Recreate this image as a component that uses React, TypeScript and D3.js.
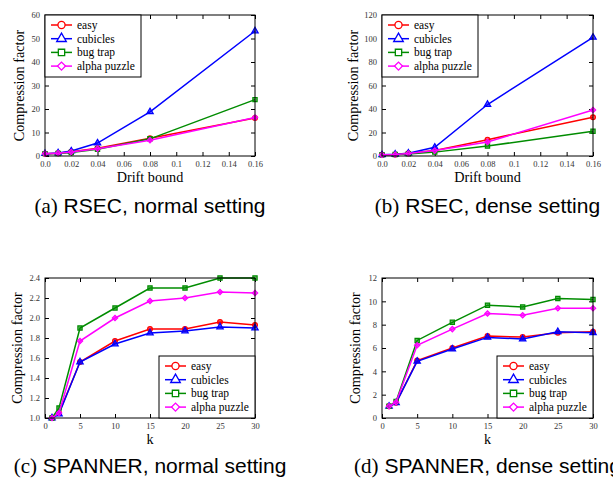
import * as d3 from "d3";
import { useEffect, useRef } from "react";

// series names + styles
const seriesNames = ["easy", "cubicles", "bug trap", "alpha puzzle"];
const seriesColors = ["#ff0000", "#0000ff", "#008c00", "#ff00ff"];
const seriesShapes = ["circle", "triangle", "square", "diamond"];

// RSEC: drift bound on x
const driftX = [0, 0.01, 0.02, 0.04, 0.08, 0.16];
const driftTicks = [0, 0.02, 0.04, 0.06, 0.08, 0.1, 0.12, 0.14, 0.16];
const driftTickLabels = ["0.0", "0.02", "0.04", "0.06", "0.08", "0.1", "0.12", "0.14", "0.16"];

const rsecNormal = [
  [1, 1.2, 1.8, 3.3, 7.6, 16.2],
  [1, 1.3, 2.1, 5.5, 18.8, 53.2],
  [1, 1.1, 1.5, 2.9, 7.3, 24],
  [1, 1.2, 1.7, 3.1, 6.7, 16.4],
];
const rsecDense = [
  [1, 1.3, 2.3, 4.6, 13.9, 33],
  [1, 1.5, 2.4, 7.4, 43.8, 101],
  [1, 1.2, 1.8, 3.3, 8.5, 21],
  [1, 1.3, 2.2, 4.6, 11.9, 39.2],
];

// SPANNER: k on x
const kX = [1, 2, 5, 10, 15, 20, 25, 30];
const kTicks = [0, 5, 10, 15, 20, 25, 30];

const spannerNormal = [
  [1.0, 1.05, 1.56, 1.77, 1.89, 1.89, 1.96, 1.93],
  [1.0, 1.04, 1.56, 1.74, 1.85, 1.87, 1.91, 1.9],
  [1.0, 1.1, 1.9, 2.1, 2.3, 2.3, 2.4, 2.4],
  [1.0, 1.05, 1.77, 2.0, 2.17, 2.2, 2.26, 2.25],
];
const spannerDense = [
  [1, 1.3, 4.92, 6.0, 7.02, 6.94, 7.31, 7.39],
  [1, 1.3, 4.86, 5.91, 6.91, 6.77, 7.39, 7.31],
  [1, 1.42, 6.65, 8.2, 9.67, 9.52, 10.24, 10.15],
  [1, 1.35, 6.23, 7.62, 8.96, 8.81, 9.41, 9.41],
];

const SERIF = "'Liberation Serif', 'DejaVu Serif', serif";
const SANS = "'Liberation Sans', Arial, sans-serif";

function symbolFor(shape, size) {
  var type = d3.symbolCircle;
  if (shape === "triangle") type = d3.symbolTriangle;
  if (shape === "square" || shape === "diamond") type = d3.symbolSquare;
  return d3.symbol().type(type).size(shape === "diamond" ? size * 0.8 : size)();
}

function Panel({ id, left, top, width, height, xs, series, xDomain, xTicks, xFormat, yDomain, yTicks, yFormat, xLabel, yLabelX, legendPos, tag, caption, captionY }) {
  const ref = useRef(null);

  useEffect(() => {
    const g = d3.select(ref.current);
    g.selectAll("*").remove();

    const x = d3.scaleLinear().domain(xDomain).range([0, width]);
    const y = d3.scaleLinear().domain(yDomain).range([height, 0]);

    function styleAxis(sel) {
      sel.select(".domain").remove();
      sel.attr("font-family", SERIF).attr("font-size", 8.5);
      sel.selectAll("text").attr("fill", "#333");
      sel.selectAll("line").attr("stroke", "#000");
    }

    g.append("g")
      .attr("transform", "translate(0," + height + ")")
      .call(d3.axisBottom(x).tickValues(xTicks).tickFormat(xFormat).tickSize(-4).tickPadding(5))
      .call(styleAxis);
    g.append("g")
      .call(d3.axisTop(x).tickValues(xTicks).tickFormat(() => "").tickSize(-4))
      .call(styleAxis);
    g.append("g")
      .call(d3.axisLeft(y).tickValues(yTicks).tickFormat(yFormat).tickSize(-4).tickPadding(5))
      .call(styleAxis);
    g.append("g")
      .attr("transform", "translate(" + width + ",0)")
      .call(d3.axisRight(y).tickValues(yTicks).tickFormat(() => "").tickSize(-4))
      .call(styleAxis);

    const line = d3
      .line()
      .x((d) => x(d[0]))
      .y((d) => y(d[1]));

    series.forEach((vals, i) => {
      const pts = vals.map((v, j) => [xs[j], v]);
      g.append("path")
        .attr("d", line(pts))
        .attr("fill", "none")
        .attr("stroke", seriesColors[i])
        .attr("stroke-width", 1.5);
      g.selectAll(".pt" + i)
        .data(pts)
        .join("path")
        .attr("class", "pt" + i)
        .attr("d", symbolFor(seriesShapes[i], 18))
        .attr("transform", (d) => "translate(" + x(d[0]) + "," + y(d[1]) + ")" + (seriesShapes[i] === "diamond" ? " rotate(45)" : ""))
        .attr("fill", seriesColors[i])
        .attr("fill-opacity", 0.6)
        .attr("stroke", seriesColors[i])
        .attr("stroke-width", 1.2);
    });

    g.append("rect")
      .attr("width", width)
      .attr("height", height)
      .attr("fill", "none")
      .attr("stroke", "#000")
      .attr("stroke-width", 1);

    // legend
    const lw = 96;
    const lh = 62;
    const lx = legendPos === "tl" ? 0 : width - lw;
    const ly = legendPos === "tl" ? 0 : height - lh;
    const leg = g.append("g").attr("transform", "translate(" + lx + "," + ly + ")");
    leg.append("rect").attr("width", lw).attr("height", lh).attr("fill", "#fff").attr("stroke", "#000").attr("stroke-width", 1);
    seriesNames.forEach((name, i) => {
      const ry = 10 + i * 13.7;
      leg.append("line").attr("x1", 6).attr("x2", 27).attr("y1", ry).attr("y2", ry).attr("stroke", seriesColors[i]).attr("stroke-width", 1.5);
      leg.append("path")
        .attr("d", symbolFor(seriesShapes[i], 40))
        .attr("transform", "translate(16.5," + ry + ")" + (seriesShapes[i] === "diamond" ? " rotate(45)" : ""))
        .attr("fill", "#fff")
        .attr("stroke", seriesColors[i])
        .attr("stroke-width", 1.3);
      leg.append("text")
        .attr("x", 32)
        .attr("y", ry + 4)
        .attr("font-family", SERIF)
        .attr("font-size", 11.5)
        .attr("fill", "#000")
        .text(name);
    });

    // axis titles
    g.append("text")
      .attr("x", width / 2)
      .attr("y", height + 26)
      .attr("text-anchor", "middle")
      .attr("font-family", SERIF)
      .attr("font-size", 14.2)
      .text(xLabel);
    g.append("text")
      .attr("transform", "translate(" + yLabelX + "," + height / 2 + ") rotate(-90)")
      .attr("text-anchor", "middle")
      .attr("font-family", SERIF)
      .attr("font-size", 14.2)
      .text("Compression factor");

    // caption
    const cap = g.append("text")
      .attr("x", width / 2)
      .attr("y", captionY)
      .attr("text-anchor", "middle")
      .attr("font-size", 21)
      .attr("fill", "#000");
    cap.append("tspan").attr("font-family", SERIF).text(tag);
    cap.append("tspan").attr("font-family", SANS).text(" " + caption);
  }, []);

  return <g id={id} ref={ref} transform={"translate(" + left + "," + top + ")"} />;
}

export default function App() {
  const fmtDrift = (d, i) => driftTickLabels[i];
  return (
    <svg width={613} height={479} style={{ position: "absolute", left: 0, top: 0, background: "#fff" }}>
      <Panel id="pa" left={45} top={15} width={210} height={141} xs={driftX} series={rsecNormal}
        xDomain={[0, 0.16]} xTicks={driftTicks} xFormat={fmtDrift}
        yDomain={[0, 60]} yTicks={d3.range(0, 61, 10)} yFormat={d3.format("d")}
        xLabel="Drift bound" yLabelX={-21} legendPos="tl" tag="(a)" caption="RSEC, normal setting" captionY={198} />
      <Panel id="pb" left={382} top={15} width={211} height={141} xs={driftX} series={rsecDense}
        xDomain={[0, 0.16]} xTicks={driftTicks} xFormat={fmtDrift}
        yDomain={[0, 120]} yTicks={d3.range(0, 121, 20)} yFormat={d3.format("d")}
        xLabel="Drift bound" yLabelX={-24} legendPos="tl" tag="(b)" caption="RSEC, dense setting" captionY={198} />
      <Panel id="pc" left={45} top={278} width={210} height={140} xs={kX} series={spannerNormal}
        xDomain={[0, 30]} xTicks={kTicks} xFormat={d3.format("d")}
        yDomain={[1, 2.4]} yTicks={d3.range(1, 2.41, 0.2)} yFormat={d3.format(".1f")}
        xLabel="k" yLabelX={-23} legendPos="br" tag="(c)" caption="SPANNER, normal setting" captionY={195} />
      <Panel id="pd" left={382} top={278} width={211} height={140} xs={kX} series={spannerDense}
        xDomain={[0, 30]} xTicks={kTicks} xFormat={d3.format("d")}
        yDomain={[0, 12]} yTicks={d3.range(0, 13, 2)} yFormat={d3.format("d")}
        xLabel="k" yLabelX={-22} legendPos="br" tag="(d)" caption="SPANNER, dense setting" captionY={195} />
    </svg>
  );
}
